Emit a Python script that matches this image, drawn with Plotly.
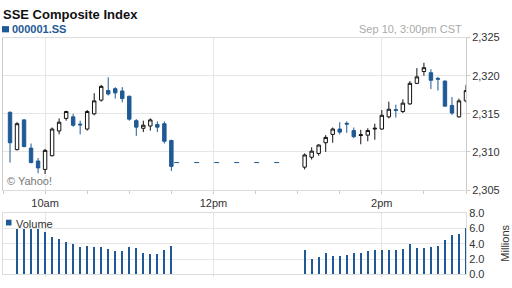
import plotly.graph_objects as go
import pandas as pd

DAY = "2013-09-10"
am_times = pd.date_range(f"{DAY} 09:35", f"{DAY} 11:30", freq="5min")
pm_times = pd.date_range(f"{DAY} 13:05", f"{DAY} 15:00", freq="5min")

am_open = [2315.2, 2310.3, 2314.2, 2310.5, 2308.8, 2307.7, 2309.5, 2312.75, 2314.4, 2314.6, 2313.65, 2313.0,
           2315.0, 2316.8, 2318.05, 2318.3, 2318.0, 2317.3, 2314.1, 2313.1, 2313.4, 2313.6, 2313.7, 2311.5]
am_high = [2315.3, 2313.9, 2314.3, 2311.1, 2309.2, 2310.4, 2313.2, 2314.4, 2315.4, 2315.0, 2314.1, 2315.5,
           2317.7, 2318.8, 2319.8, 2318.5, 2318.5, 2317.4, 2314.3, 2314.1, 2314.4, 2314.0, 2314.0, 2311.6]
am_low = [2308.6, 2310.2, 2310.6, 2308.5, 2307.2, 2307.1, 2309.4, 2312.3, 2314.1, 2313.3, 2312.3, 2312.8,
          2314.8, 2316.6, 2317.4, 2317.0, 2316.5, 2314.1, 2312.1, 2312.6, 2312.8, 2312.6, 2311.1, 2307.5]
am_close = [2311.2, 2313.7, 2310.7, 2308.6, 2307.9, 2310.2, 2313.0, 2313.9, 2315.3, 2313.5, 2313.55, 2315.3,
            2316.7, 2318.6, 2317.6, 2317.75, 2317.0, 2314.3, 2313.25, 2313.5, 2314.2, 2313.25, 2311.4, 2308.1]

pm_open = [2308.0, 2309.3, 2309.8, 2311.2, 2312.3, 2313.0, 2313.75, 2312.8, 2312.15, 2312.2, 2313.0, 2313.0,
           2314.6, 2315.55, 2315.3, 2316.3, 2319.0, 2320.55, 2320.4, 2319.65, 2319.3, 2316.1, 2314.6, 2316.7]
pm_high = [2309.8, 2310.6, 2311.0, 2312.2, 2313.2, 2313.9, 2314.0, 2313.2, 2312.9, 2313.1, 2313.7, 2315.5,
           2316.6, 2316.2, 2316.9, 2319.3, 2321.0, 2321.7, 2320.85, 2319.85, 2319.35, 2317.2, 2317.0, 2318.8]
pm_low = [2307.7, 2309.0, 2309.5, 2310.0, 2311.2, 2312.3, 2312.5, 2311.8, 2311.0, 2311.4, 2311.6, 2312.9,
          2314.4, 2314.5, 2315.1, 2316.2, 2318.9, 2320.0, 2318.25, 2318.05, 2316.0, 2314.85, 2314.5, 2316.5]
pm_close = [2309.6, 2310.1, 2310.9, 2311.9, 2313.0, 2312.6, 2313.65, 2312.0, 2312.25, 2312.8, 2313.1, 2314.8,
            2315.6, 2315.45, 2316.4, 2319.0, 2319.85, 2321.05, 2319.4, 2319.55, 2316.0, 2315.1, 2316.7, 2318.05]

vol_am_times = pd.date_range(f"{DAY} 09:40", f"{DAY} 11:30", freq="5min")
vol_am = [5.93, 5.93, 5.93, 5.93, 5.5, 4.86, 4.6, 4.23, 3.94, 3.6, 3.72, 3.6, 3.6, 3.26, 3.09, 3.09,
          3.6, 3.47, 2.83, 2.7, 2.7, 3.14, 3.72]
vol_pm = [3.17, 2.03, 2.2, 2.75, 2.41, 2.41, 2.54, 2.79, 2.79, 3.05, 3.17, 3.17, 3.17, 3.17, 3.3, 3.94,
          3.47, 3.47, 3.56, 3.72, 4.49, 5.08, 5.29, 6.1]

lunch_times = [f"{DAY} 11:32", f"{DAY} 12:50"]
lunch_level = [2308.6, 2308.6]

price_ticks = [2305, 2310, 2315, 2320, 2325]
vol_ticks = [0, 2, 4, 6, 8]
time_tickvals = [f"{DAY} 10:00", f"{DAY} 12:00", f"{DAY} 14:00"]
time_ticktext = ["10am", "12pm", "2pm"]

BLUE = "#1f5a96"
GRID = "#e6e6e6"
FONT = "Liberation Sans, Arial, sans-serif"

x_all = list(am_times) + list(pm_times)

fig = go.Figure()
fig.add_trace(go.Candlestick(
    x=x_all,
    open=am_open + pm_open, high=am_high + pm_high, low=am_low + pm_low, close=am_close + pm_close,
    increasing=dict(line=dict(color="#111111", width=1), fillcolor="#ffffff"),
    decreasing=dict(line=dict(color=BLUE, width=1), fillcolor=BLUE),
    whiskerwidth=0, hoverinfo="skip", xaxis="x", yaxis="y", showlegend=False,
))
fig.add_trace(go.Scatter(
    x=lunch_times, y=lunch_level, mode="lines",
    line=dict(color=BLUE, width=1, dash="5px,15px"), hoverinfo="skip", showlegend=False,
    xaxis="x", yaxis="y",
))
fig.add_trace(go.Bar(
    x=list(vol_am_times) + list(pm_times), y=vol_am + vol_pm,
    width=48000, marker=dict(color=BLUE, line=dict(width=0)),
    hoverinfo="skip", showlegend=False, xaxis="x2", yaxis="y2",
))

xr = [f"{DAY} 09:30", f"{DAY} 15:00"]
xdom = [3 / 512, 466 / 512]
common_x = dict(type="date", range=xr, domain=xdom, showgrid=True, gridcolor=GRID, gridwidth=1,
                tickvals=time_tickvals, showline=True, linecolor="#dcdcdc", linewidth=1,
                zeroline=False, fixedrange=True)

fig.update_layout(
    width=512, height=288, margin=dict(l=0, r=0, t=0, b=0),
    paper_bgcolor="white", plot_bgcolor="white",
    font=dict(family=FONT, size=11, color="#333333"),
    showlegend=False, bargap=0,
    xaxis=dict(**common_x, ticktext=time_ticktext, ticks="outside", ticklen=3, tickcolor="#cccccc",
               rangeslider=dict(visible=False), mirror=True,
               minor=dict(dtick=1800000, tick0=f"{DAY} 09:30", ticks="outside", ticklen=3,
                          tickcolor="#cccccc", showgrid=False),
               tickfont=dict(size=11, color="#333333"), anchor="y"),
    yaxis=dict(domain=[1 - 192 / 288, 1 - 33 / 288], range=[2305, 2325], side="right",
               tickvals=price_ticks, tickformat=",", ticks="outside", ticklen=3, tickcolor="#cccccc",
               showgrid=True, gridcolor=GRID, showline=True, linecolor="#cccccc", mirror=True,
               zeroline=False, tickfont=dict(size=11, color="#333333"), anchor="x", fixedrange=True),
    xaxis2=dict(**common_x, showticklabels=False, ticks="outside", ticklen=2, tickcolor="#e0e0e0",
                anchor="y2", mirror=True),
    yaxis2=dict(domain=[1 - 280 / 288, 1 - 216 / 288], range=[0, 8], side="right",
                tickvals=vol_ticks, tickformat=".1f", ticks="", showgrid=True, gridcolor=GRID,
                showline=True, linecolor="#dcdcdc", mirror=True, zeroline=False,
                tickfont=dict(size=11, color="#333333"), anchor="x2", fixedrange=True),
)

fig.add_annotation(x=2 / 512, y=1.0, xref="paper", yref="paper", xanchor="left", yanchor="top",
                   text="<b>SSE Composite Index</b>", showarrow=False, borderpad=0,
                   font=dict(family=FONT, size=13, color="#111111"))
fig.add_annotation(x=11 / 512, y=1 - 24 / 288, xref="paper", yref="paper", xanchor="left", yanchor="middle",
                   text="<b>000001.SS</b>", showarrow=False, borderpad=0,
                   font=dict(family=FONT, size=11, color=BLUE))
fig.add_annotation(x=463 / 512, y=1 - 24.5 / 288, xref="paper", yref="paper", xanchor="right", yanchor="middle",
                   text="Sep 10, 3:00pm CST", showarrow=False, borderpad=0,
                   font=dict(family=FONT, size=11, color="#aaaaaa"))
fig.add_annotation(x=5 / 512, y=1 - 183 / 288, xref="paper", yref="paper", xanchor="left", yanchor="middle",
                   text="© Yahoo!", showarrow=False, font=dict(family=FONT, size=11, color="#777777"))
fig.add_annotation(x=14 / 512, y=1 - 227.5 / 288, xref="paper", yref="paper", xanchor="left", yanchor="middle",
                   text="Volume", showarrow=False, font=dict(family=FONT, size=11, color="#333333"))
fig.add_annotation(x=505 / 512, y=1 - 248 / 288, xref="paper", yref="paper", xanchor="center", yanchor="middle",
                   text="Millions", textangle=-90, showarrow=False, font=dict(family=FONT, size=11, color="#333333"))

fig.add_shape(type="rect", xref="paper", yref="paper", x0=2 / 512, x1=9 / 512, y0=1 - 27.5 / 288, y1=1 - 21 / 288,
              fillcolor=BLUE, line=dict(width=0))
fig.add_shape(type="rect", xref="paper", yref="paper", x0=6 / 512, x1=11.5 / 512, y0=1 - 229 / 288, y1=1 - 223 / 288,
              fillcolor=BLUE, line=dict(width=0))

fig.write_html("out.html")
